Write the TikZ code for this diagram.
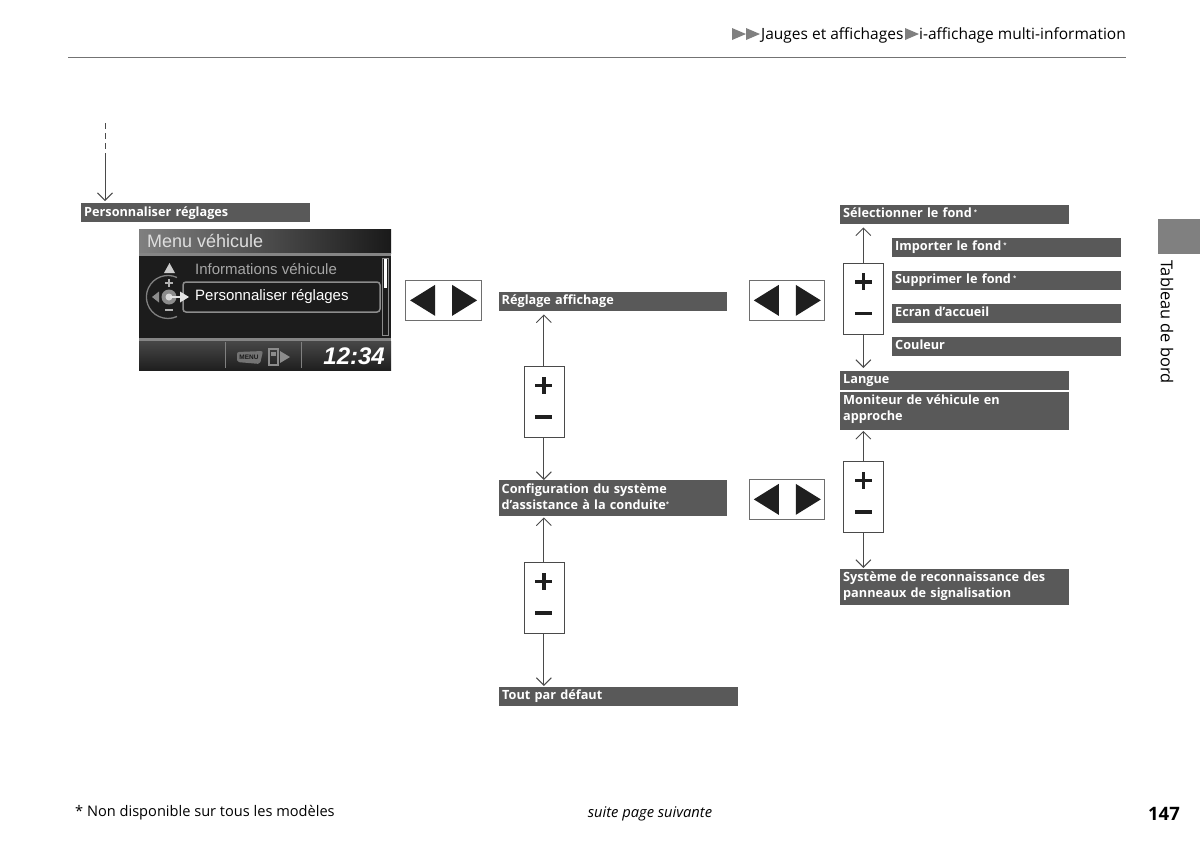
\documentclass[tikz,border=0pt]{standalone}
\usepackage{fontspec}
\setmainfont{Open Sans}
\newfontfamily\screenfont{Liberation Sans}
\usetikzlibrary{arrows.meta}
\definecolor{lab}{HTML}{595959}
\definecolor{edge}{HTML}{4a4a4a}
\definecolor{scr}{HTML}{1c1c1c}
\newcommand{\starmark}{\raisebox{3.5pt}{\fontsize{6}{6}\selectfont *}}
\tikzset{
 lab/.style={fill=lab,text=white,anchor=north west,inner sep=0pt,align=left,
   font=\fontsize{12.7}{16}\selectfont\bfseries},
 conn/.style={draw=edge,line width=1pt,-{Straight Barb[length=7.5pt,width=15pt,line width=1pt]}},
 pmbox/.style={draw=edge,fill=white,line width=0.7pt,minimum width=40pt,minimum height=71pt,inner sep=0pt,anchor=north west},
 arbox/.style={draw=edge!80,fill=white,line width=0.7pt,minimum width=75.5pt,minimum height=40pt,inner sep=0pt,anchor=north west},
 tri/.style={fill=black!88},
 hdr/.style={fill=black!50},
 scrtxt/.style={anchor=west,inner sep=0pt,font=\screenfont\fontsize{15}{16}\selectfont}
}
\newcommand{\labnode}[7]{% name, x1,y1,x2,y2, inset y, text
 \node[fill=lab,minimum width=#4pt-#2pt,minimum height=#5pt-#3pt,anchor=north west,inner sep=0pt] (#1) at (#2,#3) {};
 \node[lab,fill=none,text width=#4pt-#2pt-3pt] (#1t) at (#2+3,#3+#6+3) {#7};}
\begin{document}
\begin{tikzpicture}[x=1pt,y=-1pt]
\useasboundingbox (0,0) rectangle (1200,847);
\fill[white] (0,0) rectangle (1200,847);
% header
\coordinate (ruleL) at (68,57); \coordinate (ruleR) at (1126,57);
\draw[black!55,line width=1pt] (ruleL) -- (ruleR);
\foreach \x in {732,746,905}{\fill[hdr] (\x,28) -- (\x+14,34) -- (\x,40) -- cycle;}
\node[anchor=base west,inner sep=0pt,font=\fontsize{15.5}{16}\selectfont] (h1) at (761,39.5) {Jauges et affichages};
\node[anchor=base east,inner sep=0pt,font=\fontsize{15.5}{16}\selectfont] (h2) at (1126,39.5) {i-affichage multi-information};
% tab
\fill[black!50] (1158,219) rectangle (1200,254);
\node[rotate=-90,anchor=west,inner sep=0pt,font=\fontsize{16.4}{18}\selectfont] (tab) at (1167,260) {Tableau de bord};
% labels
\labnode{pers}{81}{203}{310}{222}{1}{Personnaliser réglages}
\labnode{regl}{498.5}{292}{727}{311}{0}{Réglage affichage}
\labnode{conf}{498.5}{480}{727}{516}{1}{Configuration du système\\d\symbol{39}assistance à la conduite\starmark}
\labnode{tout}{499}{687}{738}{706}{0}{Tout par défaut}
\labnode{sel}{840}{205}{1069}{224}{0}{Sélectionner le fond\,\starmark}
\labnode{imp}{892}{238}{1120.5}{257}{0}{Importer le fond\,\starmark}
\labnode{sup}{892}{271}{1120.5}{290}{0}{Supprimer le fond\,\starmark}
\labnode{ecr}{892}{304}{1120.5}{323}{0}{Ecran d\symbol{39}accueil}
\labnode{cou}{892}{337}{1120.5}{356}{0}{Couleur}
\labnode{lan}{840}{371}{1069}{389.5}{0}{Langue}
\labnode{mon}{840}{392}{1069}{429.5}{0}{Moniteur de véhicule en\\approche}
\labnode{sys}{840}{569}{1069}{605}{0}{Système de reconnaissance des\\panneaux de signalisation}
% plus-minus boxes
\foreach \n/\x/\y in {pa/843/262.5,pb/843/461,pc/523.5/366,pd/523.5/562}{
 \node[pmbox] (\n) at (\x,\y) {};
 \fill[black!88] (\n.north) ++(-8.5,17.5) rectangle ++(17,3.6);
 \fill[black!88] (\n.north) ++(-1.8,10.8) rectangle ++(3.6,17);
 \fill[black!88] (\n.north) ++(-8.5,49) rectangle ++(17,3.6);
}
% arrow boxes
\foreach \n/\x/\y in {aa/405/280,ab/748.7/280,ac/748.7/479}{
 \node[arbox] (\n) at (\x,\y) {};
 \fill[tri] (\n.center) ++(-33,0) -- ++(25,-15.5) -- ++(0,31) -- cycle;
 \fill[tri] (\n.center) ++(34,0) -- ++(-25,-15.5) -- ++(0,31) -- cycle;
}
% connectors
\draw[conn,shorten >=3pt] (pa.north) -- (pa.north |- sel.south);
\draw[conn,shorten >=3pt] (pa.south) -- (pa.south |- lan.north);
\draw[conn,shorten >=1pt] (pb.north) -- (pb.north |- mon.south);
\draw[conn,shorten >=1pt] (pb.south) -- (pb.south |- sys.north);
\draw[conn,shorten >=3pt] (pc.north) -- (pc.north |- regl.south);
\draw[conn] (pc.south) -- (pc.south |- conf.north);
\draw[conn,shorten >=1pt] (pd.north) -- (pd.north |- conf.south);
\draw[conn,shorten >=1pt] (pd.south) -- (pd.south |- tout.north);
\coordinate (st) at (105,123); \coordinate (mid) at (105,155);
\draw[edge,line width=0.9pt,dash pattern=on 6pt off 4pt] (st) -- (mid);
\draw[conn,shorten >=2pt] (mid) -- (mid |- pers.north);
% screen
\fill[scr] (139,229) rectangle (391,370);
\shade[left color=black!50,right color=black!90,middle color=black!70] (139,229) rectangle (391,253);
\fill[black!48] (139,253) rectangle (391,255.5);
\fill[black!48] (139,338) rectangle (391,341);
\shade[top color=black!72,bottom color=black!88] (139,341) rectangle (391,370);
\node[anchor=west,inner sep=0pt,text=black!13,font=\screenfont\fontsize{18}{20}\selectfont] (menu) at (147,241) {Menu véhicule};
\node[scrtxt,text=black!35] (info) at (195,269) {Informations véhicule};
\node[scrtxt,text=white] (persb) at (195,297) {Personnaliser réglages};
\draw[black!45,line width=1.5pt,rounded corners=3pt] (183,282) rectangle (380,312);
\draw[black!45,line width=0.8pt] (382.5,258) rectangle (388,335);
\fill[white] (383.5,259) rectangle (387,288);
\fill[black!20] (164,273) -- (169.5,263) -- (175,273) -- cycle;
\draw[black!50,line width=1.3pt] (177,277.5) arc (-65:-295:21.5);
\fill[black!45] (159,291.5) -- (159,302.5) -- (152,297) -- cycle;
\draw[black!30,line width=1.5pt] (165,283) -- (173,283) (169,279) -- (169,287);
\draw[black!30,line width=1.5pt] (165,310) -- (173,310);
\fill[black!45] (169,297) circle (7.5);
\fill[black!15] (169,297) circle (3.5);
\draw[black!10,line width=2pt] (170,297) -- (182,297);
\fill[black!10] (180,291.5) -- (189,297) -- (180,302.5) -- cycle;
\draw[black!50,line width=0.8pt] (225.5,342) -- (225.5,368) (301,342) -- (301,368);
\fill[black!55,rounded corners=2pt] (237,352) -- (263,351) -- (260,364) -- (237,362) -- cycle;
\node[text=black!90,inner sep=0pt,font=\screenfont\bfseries\fontsize{6.5}{7}\selectfont] (mn) at (249,357.5) {MENU};
\draw[black!45,line width=1.2pt] (269,349) rectangle (278,365);
\fill[black!45] (271,351.5) rectangle (276,356);
\fill[black!45] (280,351) -- (290,357) -- (280,363) -- cycle;
\node[anchor=east,inner sep=0pt,text=white,font=\screenfont\bfseries\itshape\fontsize{24}{26}\selectfont] (clk) at (385,356.5) {12:34};
% footer
\node[anchor=base west,inner sep=0pt,font=\fontsize{14.6}{16}\selectfont] (fn) at (75,816) {* Non disponible sur tous les modèles};
\node[anchor=base,inner sep=0pt,font=\itshape\fontsize{14.7}{16}\selectfont] (sv) at (650,817) {suite page suivante};
\node[anchor=base east,inner sep=0pt,font=\bfseries\fontsize{18.5}{20}\selectfont] (pg) at (1180,820) {147};
\end{tikzpicture}
\end{document}
